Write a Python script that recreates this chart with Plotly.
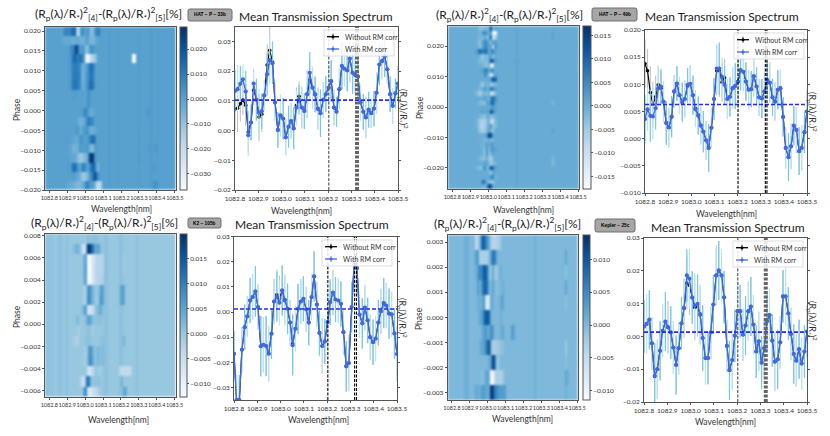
import plotly.colors as pc
import plotly.graph_objects as go

OUT_HTML = "out.html"
W, H = 830, 436

WAVE = [
    1082.800, 1082.811, 1082.823, 1082.834, 1082.846, 1082.857, 1082.869, 1082.880, 1082.892, 1082.903,
    1082.915, 1082.926, 1082.938, 1082.949, 1082.961, 1082.972, 1082.984, 1082.995, 1083.007, 1083.018,
    1083.030, 1083.041, 1083.052, 1083.064, 1083.075, 1083.087, 1083.098, 1083.110, 1083.121, 1083.133,
    1083.144, 1083.156, 1083.167, 1083.179, 1083.190, 1083.202, 1083.213, 1083.225, 1083.236, 1083.248,
    1083.259, 1083.270, 1083.282, 1083.293, 1083.305, 1083.316, 1083.328, 1083.339, 1083.351, 1083.362,
    1083.374, 1083.385, 1083.397, 1083.408, 1083.420, 1083.431, 1083.443, 1083.454, 1083.466, 1083.477,
    1083.489, 1083.500,
]
WAVE_TICKS = [1082.8, 1082.9, 1083.0, 1083.1, 1083.2, 1083.3, 1083.4, 1083.5]

# mean transmission spectra, one list per planet
A_WITH = [
    .0133, .0139, .0157, .0172, .0131, -.0016, .0027, .0158, .0103, .006,
    .0065, .0118, .0189, .0237, .0226, .0094, .0002, .0051, .004, -.0023,
    .0013, .0032, .0007, .0077, .0103, .0077, .0066, .0122, .0194, .0144,
    .0122, .0072, .0058, .0103, .0122, .0144, .0166, .0077, .0063, .0139,
    .0217, .0208, .0202, .0242, .0194, .0187, .0181, .0094, .0063, .0044,
    .007, .0058, .0074, .0127, .0222, .0233, .025, .0206, .0122, .0083,
    .0125, .0158,
]
A_WITHOUT = [
    .0072, .0075, .009, .0102, .0085, -.0005, .0028, .0135, .0105, .0045,
    .0055, .0118, .022, .027, .023, .0094, .0002, .0051, .004, -.0023,
    .0013, .0032, .0007, .0085, .0115, .0077, .0066, .0122, .017, .0144,
    .012, .0075, .0058, .0103, .0122, .0144, .0166, .0077, .0063, .0139,
    .0217, .0208, .0202, .0242, .0194, .0187, .0181, .0094, .0063, .0044,
    .007, .0058, .0074, .0127, .0222, .0233, .025, .0206, .0122, .0083,
    .0125, .0158,
]
A_ERR = [
    .007, .008, .006, .005, .007, .007, .006, .005, .007, .008,
    .006, .005, .007, .008, .007, .006, .006, .007, .007, .006,
    .007, .006, .007, .006, .005, .007, .006, .008, .007, .007,
    .006, .007, .008, .006, .006, .007, .007, .006, .005, .007,
    .008, .006, .007, .008, .007, .006, .007, .006, .006, .007,
    .006, .005, .006, .007, .007, .006, .007, .005, .006, .006,
    .005, .006,
]
B_WITH = [
    .0036, .0054, .0042, .0041, .0056, .0093, .0096, .0068, .0029, .0021,
    .004, .0087, .0101, .008, .0068, .0073, .0099, .0101, .008, .0054,
    .0042, .0024, .0013, -.0003, -.0017, .002, .0073, .0129, .0129, .0114,
    .0099, .0073, .0077, .0093, .0097, .0105, .0126, .0123, .0105, .009,
    .0091, .0115, .0096, .0076, .0074, .0087, .0108, .0103, .0076, .0068,
    .009, .0093, .004, -.0017, -.0034, -.0014, .0024, .0016, -.0023, -.0017,
    .0012, .005,
]
B_WITHOUT = [
    .0138, .0125, .0085, .0063, .0077, .0099, .0093, .0068, .0029, .002,
    .0041, .0087, .0102, .008, .0066, .0073, .0097, .0101, .008, .0056,
    .0044, .0025, .0013, -.0003, -.0017, .002, .0073, .0125, .0125, .0104,
    .0112, .0073, .0077, .0093, .0097, .0105, .0126, .0123, .0105, .009,
    .0091, .0115, .0096, .0076, .0074, .0087, .0108, .0103, .0076, .0068,
    .009, .0093, .004, -.0017, -.0034, -.0014, .0024, .0016, -.0023, -.0017,
    .0012, .005,
]
B_ERR = [
    .0045, .004, .0048, .0042, .0039, .0035, .0032, .0038, .004, .0036,
    .0038, .003, .0032, .0034, .0036, .0034, .0031, .0034, .0036, .0033,
    .0035, .0035, .0038, .0036, .0044, .0036, .0038, .0045, .0048, .0036,
    .0035, .0037, .0036, .0038, .0042, .004, .0037, .0036, .0035, .0036,
    .0033, .0038, .0035, .0034, .0036, .0036, .0035, .0037, .0034, .0035,
    .0036, .0034, .0036, .0038, .0044, .0042, .0036, .0042, .0044, .0042,
    .0038, .004,
]
C_WITH = [
    -.0166, -.035, -.035, -.015, -.006, -.0017, .0046, .006, .0082, .002,
    -.0136, -.013, -.0135, -.0166, -.0086, .0042, .006, .0037, .0086, .0046,
    .0013, -.0042, -.0132, -.0066, .0013, .0042, .0053, .0011, -.0042, .006,
    .0142, .003, -.0083, -.0135, -.0117, -.004, .004, .0077, .005, .0046,
    .0033, -.008, -.0216, -.0203, .002, .0192, .0175, -.001, -.0045, .0018,
    -.0033, -.01, -.012, -.0106, -.0042, .0003, .0036, .0026, -.0006, -.0009,
    -.0085, -.0167,
]
C_WITHOUT = [
    -.0166, -.035, -.035, -.015, -.006, -.0017, .0046, .006, .0082, .002,
    -.0136, -.013, -.0135, -.0166, -.0086, .0042, .0069, .0055, .0086, .005,
    .0013, -.0042, -.0126, -.0066, .0013, .0042, .0053, .0011, -.0042, .006,
    .0142, .003, -.0083, -.0135, -.0117, -.004, .004, .0077, .005, .0046,
    .0033, -.008, -.0216, -.0203, .002, .0192, .0175, -.001, -.0045, .0018,
    -.0033, -.01, -.012, -.0106, -.0042, .0003, .0036, .0026, -.0006, -.0009,
    -.0085, -.0167,
]
C_ERR = [
    .009, .01, .01, .009, .009, .008, .009, .009, .01, .009,
    .012, .011, .012, .011, .01, .009, .01, .009, .01, .01,
    .01, .009, .012, .009, .01, .009, .009, .009, .009, .009,
    .01, .009, .009, .011, .009, .01, .009, .009, .009, .009,
    .009, .009, .01, .011, .01, .011, .01, .009, .01, .009,
    .009, .009, .009, .009, .009, .009, .01, .009, .01, .009,
    .01, .011,
]
D_WITH = [
    .003, .0038, .0051, -.0021, -.012, -.01, -.0044, .0017, .0045, .0028,
    .0012, -.0034, -.0087, -.0036, .004, .0087, .0186, .0176, .0119, .0094,
    .0099, .0068, -.0005, -.0066, -.0066, .0012, .0097, .0186, .0201, .0186,
    .0119, -.0029, -.0103, -.0072, .0002, .0077, .0077, .0005, .0033, .0077,
    .0091, .0036, -.0046, -.0015, -.008, -.0036, .0046, .0065, -.0013, -.0077,
    -.007, -.0018, .0122, .0122, .007, .0007, -.0054, -.0074, -.0039, -.0083,
    -.0046, .0015,
]
D_WITHOUT = [
    .003, .0038, .0051, -.0021, -.0122, -.01, -.0044, .0017, .0045, .0028,
    .0012, -.0034, -.0087, -.0036, .004, .0085, .0163, .0155, .0118, .0088,
    .009, .0065, -.0005, -.0066, -.0066, .0012, .0097, .0186, .0201, .0186,
    .0119, -.0029, -.0103, -.0072, .0002, .0077, .0077, .0005, .0033, .0077,
    .0091, .0036, -.0046, -.0015, -.008, -.0036, .0046, .0065, -.0013, -.0077,
    -.007, -.0018, .0122, .0122, .007, .0007, -.0054, -.0074, -.0039, -.0083,
    -.0046, .0015,
]
D_ERR = [
    .008, .009, .009, .008, .01, .009, .009, .008, .009, .008,
    .008, .008, .009, .008, .008, .009, .008, .009, .008, .01,
    .009, .009, .01, .008, .008, .008, .009, .009, .009, .008,
    .008, .008, .009, .009, .008, .009, .008, .008, .009, .009,
    .009, .009, .008, .009, .008, .009, .009, .008, .008, .009,
    .009, .008, .008, .009, .008, .008, .009, .008, .009, .008,
    .008, .008,
]

# residual maps in units of 1e-3, a quiet per-column background plus a typed
# block around the line core and a few isolated cells
A_BG = [
    0, 0, 0, 0, 0, 0, 0, 0, 0, 0, 0, 0, 0, 0, 0, 0, 0, 0, 0, 0,
    0, 0, 0, 0, 0, 0, 0, 0, 0, 0, 1, 0, 0, 0, 1, 0, 0, 0, 0, 0,
    0, 0, 0, 0, 1, 0, 0, 0, 0, 1, 1, 0, 0, 1, 0, 0, 0, 0, 0, 0,
    0, 0,
]
A_CORE_COL = 8
A_CORE = [
    [1, 8, 8, 7, 10, 15, 5, -30, -5, 6, 3, -2, 5, -6, -8, 2, 8, 9, 1, 0, 0],
    [-1, -3, -3, -2, -3, -4, -3, -2, -4, -5, -4, -1, 0, -5, -6, -4, -1, 0, 0, 0, 0],
    [0, 0, 0, 1, 5, 8, 27, 14, 1, 2, 2, -9, -8, 3, 4, 0, 0, 0, 0, 0, 0],
    [0, 0, 0, 2, 3, 13, 15, 8, 14, 9, 3, -30, -36, -25, -16, -12, -4, 0, 0, 0, 0],
    [0, 0, 0, 1, 3, 9, 10, 9, 6, -3, -5, 0, 3, 13, 12, 2, 0, 0, 0, 0, 0],
    [0, 0, 0, 1, 2, 10, 10, 10, 7, -4, -5, 1, 4, 11, 10, 1, 0, 0, 0, 0, 0],
    [0, 0, 0, 1, 3, 11, 11, 10, 6, -3, -4, 2, 5, 14, 12, 2, 0, 0, 0, 0, 0],
    [0, 0, 0, 0, 0, 1, 1, 0, 0, 0, 0, -1, 4, 3, 0, 0, 0, 0, 0, 0, 0],
    [0, 0, 0, 0, 0, 0, 0, 0, 0, 0, -1, 0, 4, 2, 0, 0, 0, 0, 0, 0, 0],
    [0, 0, 0, 0, 0, 0, 0, 0, 0, 1, 5, 7, 2, -3, -3, 0, 0, 0, 0, 0, 0],
    [0, 0, 0, 0, 0, 0, 0, -2, -5, -5, -3, 2, 9, 9, 6, 0, 0, 0, 0, 0, 0],
    [0, 0, 0, 0, 0, 0, 2, 3, -3, -2, 2, 3, 3, -3, -4, -3, 0, 0, 0, 0, 0],
    [0, 0, 0, 0, 0, -1, -3, -3, 3, 3, 1, 0, 2, 7, 13, 9, 0, 0, 0, 0, 0],
    [0, 0, 0, -1, -2, -5, -5, -4, 2, 1, 1, 1, 3, -5, -7, 1, 1, 0, 0, 0, 0],
    [0, 0, 0, 0, -1, -2, -3, -8, -11, -11, -8, -6, 0, 26, 28, 4, 0, 0, 0, 0, 0],
    [0, 0, 0, 1, 1, 13, 11, 3, -2, 6, 9, 3, -1, 6, 15, 12, -4, -4, 1, 0, 0],
    [0, 0, 0, 0, 0, 1, -1, -2, -5, -10, -12, -10, -5, 2, 9, 24, 10, 3, 0, 0, 0],
    [0, 0, -1, -2, -2, -4, -6, -7, -6, -5, -2, 7, 8, 2, 1, -5, -18, -20, -14, 0, 0],
]
A_SPOTS = [
    (3, 41, -37), (3, 42, -37), (14, 44, 3), (13, 49, 3), (13, 52, 3), (15, 51, 2),
    (17, 51, 4), (17, 52, 4), (17, 53, 3), (12, 44, 2), (9, 49, 2), (9, 48, 2),
]

B_BG = [
    0, 0, 0, 0, 0, 0, 0, 0, 0, 0, 0, 0, 0, 0, 0, 0, 0, 0, 0, 0,
    0, 0, 0, 0, 0, 0, 0, 0, 0, 0, 0, 0, 1, 0, 0, 0, 0, 0, 0, 0,
    0, 0, 0, 0, 0, 0, 0, 0, 0, 0, 0, 0, 0, 0, 0, 0, 0, 0, 0, 0,
    0, 0,
]
B_CORE_COL = 13
B_CORE = [
    [0, -2, -3, -3, -1, -2, 0, 14, -2, 1, 0, 0],
    [0, -1, -1, 4, 5, 2, 0, 3, -17, -17, 0, 0],
    [0, -2, -1, -2, 1, -2, -1, 10, -13, -6, 0, 0],
    [0, -3, -2, 2, 5, 4, 0, -2, 2, 2, 0, 0],
    [0, -2, -3, 2, 5, 5, 0, 3, -10, 3, 0, 0],
    [2, 8, 9, 5, 9, 7, 0, 3, 6, 1, 0, 0],
    [0, 0, -3, -4, -2, -2, 0, 2, -3, 0, 0, 0],
    [0, -2, -2, -3, -2, -3, 0, 14, 9, 2, 0, 0],
    [0, -1, 0, -2, -2, -4, 0, -14, -12, 0, 0, 0],
    [0, 0, 1, 2, 5, 6, 0, 3, 4, 0, 0, 0],
    [0, 0, 0, 0, 5, 1, -2, -16, -4, 1, 0, 0],
    [0, 0, 0, 0, 0, 0, 0, 4, 12, 9, 0, 0],
    [0, 0, -3, -5, 0, -2, 0, -5, -3, -2, 0, 0],
    [0, -2, -1, 0, 3, 0, 0, 8, 6, 2, 0, 0],
    [-2, -5, -5, -2, -1, -3, 0, -9, -10, -2, 0, 0],
    [0, 0, 0, 0, 2, 0, -1, 5, 10, 4, 0, 0],
    [0, -2, -3, -2, -4, 3, 0, 8, 10, 2, 0, 0],
    [0, 0, 0, 0, 0, 1, 0, 2, 3, 1, 0, 0],
    [0, 0, 1, 2, 0, 2, 0, 14, 7, 1, 0, 0],
    [0, -1, -2, -3, -3, -1, 0, -3, -3, -1, 0, 0],
    [-1, -4, -6, -6, -6, -3, 0, -9, -9, -2, 0, 0],
    [-1, -4, -7, -7, -6, -2, 0, 3, -3, -3, 0, 0],
    [0, -3, -5, -6, -4, -2, 2, -1, -4, 0, 0, 0],
    [0, 0, -1, 0, 0, 3, 15, 13, 2, 0, 0, 0],
    [0, 0, 0, -1, -2, -1, 0, -2, -2, 0, 0, 0],
    [0, 0, -1, -1, -1, 2, 0, 2, 2, 0, 0, 0],
    [0, 0, 0, -1, -3, 4, -3, 2, 3, 1, 0, 0],
    [0, 0, 0, -1, -4, 4, -4, -1, 1, 0, 0, 0],
    [0, -1, -2, -3, -3, 0, -4, -6, -2, 0, 0, 0],
    [0, 0, 0, 0, 2, 1, -2, -5, -3, -1, 0, 0],
    [-1, -3, -3, 0, 5, -2, 0, 14, 9, 2, 0, 0],
    [0, 0, 0, 0, 0, 0, -1, -4, 2, 0, 0, 0],
    [0, 0, 0, 0, 0, 0, 0, 4, 5, -1, 0, 0],
    [0, 0, 0, 10, 5, 0, -3, -4, -5, 0, 0, 0],
    [0, 0, 0, -1, -1, 2, 15, 13, 0, 0, 0, 0],
]
B_SPOTS = [(1, 49, 2), (2, 49, 2), (7, 31, 1), (22, 49, 2), (28, 49, -2), (29, 49, -3), (16, 49, -2)]

C_BG = [
    1, 1, 0, 1, 0, 0, 1, 1, 0, 0, 1, 0, 0, 0, 0, 0, 0, 0, 0, 0,
    0, 0, 0, 0, 0, 0, 0, 0, 1, 1, 0, 0, 0, 0, 0, 1, 1, 0, 0, 0,
    0, 0, 0, 1, 0, 0, 0, 0, 0, 0, 0, 0, 0, 0, 0, 0, 0, 0, 0, 0,
    0, 0,
]
C_CORE_COL = 13
C_CORE = [
    [0, 0, 0, 0, 0, 0, -1, 2, 0, 1, 1, 1, 0, 0, 0],
    [1, 3, 3, 1, -3, -9, 0, 19, 19, 12, 4, 5, 5, 1, 0],
    [0, 0, 0, 0, 0, 3, 6, -12, -12, -8, -4, -3, -3, -3, -3],
    [0, 0, 0, 0, 0, 3, 7, -13, -13, -8, -4, -3, -3, -3, -3],
    [0, 0, 0, 0, 0, 3, 6, -12, -12, -8, -4, -3, -3, -2, -2],
    [0, 0, 0, 0, 0, -2, -1, 7, 8, 3, 0, 0, 1, 6, 5],
    [0, 0, 0, 0, 0, -2, -1, 8, 8, 3, 0, -1, 2, 7, 5],
    [0, 0, 0, 0, 1, 4, 6, -6, -7, -5, 0, 1, 3, 4, 1],
    [0, 1, 2, 0, 0, 0, 2, 5, 5, 2, 0, 1, 1, 1, 0],
    [0, 0, -1, -1, 0, 0, 0, 1, 1, -1, 0, 0, 0, 0, 0],
    [-1, -2, -2, 0, 0, 0, 1, 1, 1, 0, 0, 0, 0, 1, 1],
    [0, 0, 0, 0, 0, -1, -1, 2, 9, 4, 0, 2, 2, 1, 2],
    [0, 0, 0, 0, 0, -1, -1, 3, 9, 5, 0, 2, 2, 1, 2],
    [0, 0, 0, 0, 0, 0, 0, -6, -7, -4, 0, 0, -1, -1, 0],
    [0, 0, 0, -1, -4, -8, 5, 13, 6, 0, 1, 0, 1, 0, 0],
    [0, 0, 0, 0, -1, 6, 9, -7, -8, -6, -4, -3, -2, 0, 0],
]
C_SPOTS = [
    (5, 36, 6), (5, 37, 5), (6, 36, 6), (6, 37, 5), (5, 35, 3), (6, 35, 3),
    (13, 35, -3), (13, 36, -4), (13, 37, -4), (13, 38, -4), (13, 39, -4), (13, 40, -3),
    (14, 36, 3), (15, 37, 5), (15, 38, 4), (2, 37, -1), (3, 37, -1), (10, 37, 3),
]

D_BG = [
    0, 0, 0, 0, 0, 0, 0, 0, 1, 1, 0, 0, 0, 0, 0, 0, 0, 0, 0, 0,
    0, 0, 0, 0, 0, 0, 0, 0, 0, 0, 0, 0, 0, 0, 0, 0, 0, 0, 0, 0,
    0, 1, 0, 0, 0, 0, 0, 0, 0, 0, 0, 0, 0, 0, 0, 0, 0, 0, 0, 0,
    0, 0,
]
D_CORE_COL = 13
D_CORE = [
    [-5, -3, 0, 8, 10, 5, 1, -2, -4, -4, -3, -3, -1, 0, 0],
    [3, 3, -3, -3, -3, -3, -1, 3, 7, 6, 1, 0, 0, 0, 0],
    [1, 3, 6, 5, 11, 8, 0, -2, 2, -2, -2, 0, 1, 0, 0],
    [0, 3, 1, 4, 9, 8, 1, 0, 2, 0, -1, 0, 0, 1, 0],
    [0, 1, 1, 1, 4, -7, -8, 2, 1, 0, 0, 0, 2, 2, 0],
    [0, 0, 2, 2, 7, 10, 9, 1, 0, 0, 0, 0, 1, 0, 0],
    [0, 0, 0, 1, 3, 3, 1, 5, 3, 0, 0, 0, 1, 2, 0],
    [0, 0, 1, 2, 2, 6, 12, 1, -3, -3, -2, -2, -1, -1, 0],
    [0, 0, 0, 0, 0, 0, 1, 3, 13, 7, -2, -1, 0, 0, 0],
    [0, 0, 0, -1, 0, 2, 2, -11, -11, -4, -3, -3, -3, -2, 0],
    [2, 1, 1, 3, 3, 2, 1, 13, 12, 6, 5, 3, 3, 3, 3],
]
D_SPOTS = [
    (1, 56, 2), (2, 56, -1), (3, 56, 2), (4, 56, -1), (7, 56, -2), (8, 56, -1),
    (9, 56, 2), (10, 56, 1), (9, 57, 1), (6, 30, 3), (6, 31, 2),
]


def px(x):
    return x / W


def py(y):
    return 1 - y / H


def build_z(bg, core_col, core, spots):
    rows = []
    for r, core_row in enumerate(core):
        row = list(bg)
        for i, v in enumerate(core_row):
            row[core_col + i] = v
        rows.append(row)
    for r, c, v in spots:
        rows[r][c] = v
    return [[v * 1e-3 for v in row] for row in rows]


fig = go.Figure()
blues = pc.sequential.Blues
FAMILY = "Lato, Liberation Sans"
TICK_FONT = dict(family=FAMILY, size=6.5, color="#333333")
AXIS_FONT = dict(family=FAMILY, size=8.5, color="#333333")
TITLE_FONT = dict(family=FAMILY, size=12, color="#222222")
SPINE = "#555555"


def add_heatmap(n, z, x_px, y_px, cbar_px, zmin, zmax, top_phase, bottom_phase, phase_ticks, cbar_ticks):
    xa, ya = f"xaxis{n}", f"yaxis{n}"
    x0, x1 = 1082.776, 1083.505
    dx = (x1 - x0) / 62
    dy = (bottom_phase - top_phase) / len(z)
    fig.add_trace(go.Heatmap(
        z=z, x0=x0 + dx / 2, dx=dx, y0=top_phase + dy / 2, dy=dy,
        zmin=zmin, zmax=zmax, colorscale=blues,
        xaxis=f"x{n}", yaxis=f"y{n}",
        colorbar=dict(
            x=px(cbar_px[0]), xanchor="left", xref="paper",
            y=py(y_px[1]), yanchor="bottom", yref="paper",
            len=(y_px[1] - y_px[0]) / H, lenmode="fraction",
            thickness=cbar_px[1] - cbar_px[0], thicknessmode="pixels",
            outlinecolor=SPINE, outlinewidth=1, tickvals=cbar_ticks, tickformat=".3f",
            ticks="outside", ticklen=2, tickcolor=SPINE, tickwidth=0.6,
            tickfont=TICK_FONT, xpad=0, ypad=0,
        ),
    ))
    fig.update_layout({
        xa: dict(
            domain=[px(x_px[0]), px(x_px[1])], range=[x0, x1], anchor=f"y{n}", automargin=False,
            tickvals=WAVE_TICKS, tickformat=".1f", tickangle=0, ticks="outside", ticklen=2, tickwidth=0.6,
            tickcolor=SPINE, tickfont=dict(TICK_FONT, size=5.5), showline=True, mirror=True,
            linecolor=SPINE, linewidth=1, showgrid=False, zeroline=False,
        ),
        ya: dict(
            domain=[py(y_px[1]), py(y_px[0])], range=[bottom_phase, top_phase], anchor=f"x{n}", automargin=False,
            tickvals=phase_ticks, tickformat=".3f", ticks="outside", ticklen=2, tickwidth=0.6,
            tickcolor=SPINE, tickfont=TICK_FONT, showline=True, mirror=True,
            linecolor=SPINE, linewidth=1, showgrid=False, zeroline=False,
        ),
    })


def add_legend(x, y):
    fig.add_shape(type="rect", xref="paper", yref="paper", x0=px(x), x1=px(x + 70), y0=py(y + 26), y1=py(y),
                  fillcolor="rgba(255,255,255,0.85)", line=dict(color="#d0d0d0", width=0.7), layer="above")
    for dy, color, text in ((6.7, "black", "Without RM corr"), (19, "royalblue", "With RM corr")):
        fig.add_shape(type="line", xref="paper", yref="paper", x0=px(x + 3), x1=px(x + 15),
                      y0=py(y + dy), y1=py(y + dy), line=dict(color=color, width=1.3), layer="above")
        fig.add_shape(type="line", xref="paper", yref="paper", x0=px(x + 9), x1=px(x + 9),
                      y0=py(y + dy - 3), y1=py(y + dy + 3), line=dict(color=color, width=0.8), layer="above")
        fig.add_shape(type="circle", xref="paper", yref="paper", x0=px(x + 7.5), x1=px(x + 10.5),
                      y0=py(y + dy + 1.5), y1=py(y + dy - 1.5), fillcolor=color, line=dict(width=0), layer="above")
        fig.add_annotation(text=text, x=px(x + 19), y=py(y + dy), xref="paper", yref="paper", showarrow=False,
                           xanchor="left", yanchor="middle", font=dict(family=FAMILY, size=7, color="#333333"))


def add_spectrum(n, with_rm, without_rm, err, x_px, y_px, y_range, y_ticks, y_format, level, lines, line_color, line_widths, legend_px):
    xa, ya = f"xaxis{n}", f"yaxis{n}"
    common = dict(xaxis=f"x{n}", yaxis=f"y{n}", showlegend=False)
    fig.add_trace(go.Scatter(
        x=WAVE, y=without_rm, mode="lines+markers", name="Without RM corr",
        line=dict(color="black", width=1.2), marker=dict(color="black", size=3.6),
        error_y=dict(type="data", array=err, color="#a0a0a0", thickness=0.7, width=0), **common,
    ))
    # with-RM error bars alternate between two blues in the original
    for start, color in ((0, "#74c8ec"), (1, "#bce4f4")):
        fig.add_trace(go.Scatter(
            x=WAVE[start::2], y=with_rm[start::2], mode="markers", marker=dict(size=1, opacity=0),
            error_y=dict(type="data", array=err[start::2], color=color, thickness=1.2, width=0),
            hoverinfo="skip", **common,
        ))
    fig.add_trace(go.Scatter(
        x=WAVE, y=with_rm, mode="lines+markers", name="With RM corr",
        line=dict(color="royalblue", width=1.3), marker=dict(color="royalblue", size=4.2), **common,
    ))
    fig.update_layout({
        xa: dict(
            domain=[px(x_px[0]), px(x_px[1])], range=[1082.8, 1083.5], anchor=f"y{n}", automargin=False,
            tickvals=WAVE_TICKS, tickformat=".1f", tickangle=0, ticks="outside", ticklen=2, tickwidth=0.6,
            tickcolor=SPINE, tickfont=TICK_FONT, showline=True, mirror=True,
            linecolor=SPINE, linewidth=1, showgrid=False, zeroline=False,
        ),
        ya: dict(
            domain=[py(y_px[1]), py(y_px[0])], range=y_range, anchor=f"x{n}", automargin=False,
            tickvals=y_ticks, tickformat=y_format, ticks="outside", ticklen=2,
            tickwidth=0.6, tickcolor=SPINE, tickfont=TICK_FONT, showline=True, mirror="ticks",
            linecolor=SPINE, linewidth=1, showgrid=False, zeroline=False,
        ),
    })
    fig.add_shape(type="line", xref=f"x{n}", yref=f"y{n}", x0=1082.8, x1=1083.5, y0=level, y1=level,
                  line=dict(color="#2a2ae6", width=1.6, dash="4px,2px"), layer="above")
    for wl, width in zip(lines, line_widths):
        fig.add_shape(type="line", xref=f"x{n}", yref=f"y{n}", x0=wl, x1=wl, y0=y_range[0], y1=y_range[1],
                      line=dict(color=line_color, width=width, dash="3px,1.5px"), layer="above")
    add_legend(*legend_px)


def label(text, x, y, font, angle=0):
    fig.add_annotation(text=text, x=px(x), y=py(y), xref="paper", yref="paper", showarrow=False,
                       font=font, textangle=angle, xanchor="center", yanchor="middle")


def badge(text, x0, y0, x1, y1):
    r = 2
    path = (
        f"M {px(x0 + r)} {py(y0)} L {px(x1 - r)} {py(y0)} Q {px(x1)} {py(y0)} {px(x1)} {py(y0 + r)} "
        f"L {px(x1)} {py(y1 - r)} Q {px(x1)} {py(y1)} {px(x1 - r)} {py(y1)} "
        f"L {px(x0 + r)} {py(y1)} Q {px(x0)} {py(y1)} {px(x0)} {py(y1 - r)} "
        f"L {px(x0)} {py(y0 + r)} Q {px(x0)} {py(y0)} {px(x0 + r)} {py(y0)} Z"
    )
    fig.add_shape(type="path", xref="paper", yref="paper", path=path,
                  fillcolor="#a6a6a6", line=dict(color="#6e6e6e", width=1))
    label(text, (x0 + x1) / 2, (y0 + y1) / 2,
          dict(family="Liberation Sans", size=4.8, color="black", weight="bold"))


add_heatmap(1, build_z(A_BG, A_CORE_COL, A_CORE, A_SPOTS), (45, 175.7), (26.7, 190), (180, 187),
            -.0365, .0289, .0211, -.0200,
            [-.02, -.015, -.01, -.005, 0, .005, .01, .015, .02],
            [-.03, -.02, -.01, 0, .01, .02])
add_spectrum(2, A_WITH, A_WITHOUT, A_ERR, (235, 398), (26.7, 190), [-.02, .0349],
             [-.02, -.01, 0, .01, .02, .03], ".2f", .0102, [1083.2026, 1083.324], "#666666", [1.3, 4], (324, 30))

add_heatmap(3, build_z(B_BG, B_CORE_COL, B_CORE, B_SPOTS), (448, 579), (26, 189), (583, 591),
            -.0177, .0170, .0266, -.0269,
            [-.02, -.01, 0, .01, .02],
            [-.015, -.01, -.005, 0, .005, .01, .015])
add_spectrum(4, B_WITH, B_WITHOUT, B_ERR, (645, 807), (30, 193), [-.01, .02],
             [-.01, -.005, 0, .005, .01, .015, .02], ".3f", .0063, [1083.202, 1083.32, 1083.327], "black", [1.1, 1.1, 1.1], (734, 33))

add_heatmap(5, build_z(C_BG, C_CORE_COL, C_CORE, C_SPOTS), (45, 175.5), (233.7, 397), (180, 187),
            -.0127, .0199, .0082, -.0066,
            [-.006, -.004, -.002, 0, .002, .004, .006, .008],
            [-.01, -.005, 0, .005, .01, .015])
add_spectrum(6, C_WITH, C_WITHOUT, C_ERR, (234, 397), (236.7, 400), [-.035, .03],
             [-.03, -.02, -.01, 0, .01, .02, .03], ".2f", .0012, [1083.203, 1083.318, 1083.326], "black", [1.1, 1.1, 1.1], (322, 240))

add_heatmap(7, build_z(D_BG, D_CORE_COL, D_CORE, D_SPOTS), (447.7, 578), (235, 400), (583, 590),
            -.0114, .0137, .00328, -.0033,
            [-.003, -.002, -.001, 0, .001, .002, .003],
            [-.01, -.005, 0, .005, .01])
add_spectrum(8, D_WITH, D_WITHOUT, D_ERR, (644, 807), (238, 402), [-.02, .03],
             [-.02, -.01, 0, .01, .02, .03], ".2f", .0013, [1083.2025, 1083.323], "#666666", [1.3, 4], (733, 241))

HEAT_TITLE = "(R<sub>p</sub>(λ)/R<sub>*</sub>)<sup>2</sup><sub>[4]</sub>-(R<sub>p</sub>(λ)/R<sub>*</sub>)<sup>2</sup><sub>[5]</sub>[%]"
SPEC_TITLE = "Mean Transmission Spectrum"
SIDE_TITLE = "(R<sub>p</sub>(λ)/R<sub>*</sub>)<sup>2</sup>"

for x, y in ((108, 14), (509, 15), (105, 223), (507, 224)):
    label(HEAT_TITLE, x, y, TITLE_FONT)
for x, y in ((316, 16), (722, 16), (312, 225), (728, 227)):
    label(SPEC_TITLE, x, y, TITLE_FONT)
for x, y in ((121, 209), (301, 211), (523, 210), (726, 214), (118, 420), (318, 420), (522, 419), (725, 422)):
    label("Wavelength[nm]", x, y, AXIS_FONT)
for x, y in ((17, 110), (420, 107), (17, 317), (419, 319)):
    label("Phase", x, y, AXIS_FONT, angle=-90)
for x, y in ((404, 109), (813, 112), (403, 318), (813, 321)):
    label(SIDE_TITLE, x, y, dict(AXIS_FONT, size=9), angle=90)

badge("HAT − P − 33b", 188, 9, 232, 21)
badge("HAT − P − 49b", 592, 8, 637, 21)
badge("K2 − 105b", 188, 218, 221, 228)
badge("Kepler − 25c", 595, 219, 635, 232)

fig.update_layout(
    width=W, height=H, autosize=False,
    margin=dict(l=0, r=0, t=0, b=0),
    paper_bgcolor="white", plot_bgcolor="white",
)
# soften the heatmap cells a little, the source figure is a downsampled raster
fig.write_html(
    OUT_HTML,
    config={"displayModeBar": False},
    post_script=(
        "document.body.style.margin='0';document.body.style.overflow='hidden';"
        "document.head.insertAdjacentHTML('beforeend','<style>.hm image{filter:blur(0.9px)}</style>');"
    ),
)
